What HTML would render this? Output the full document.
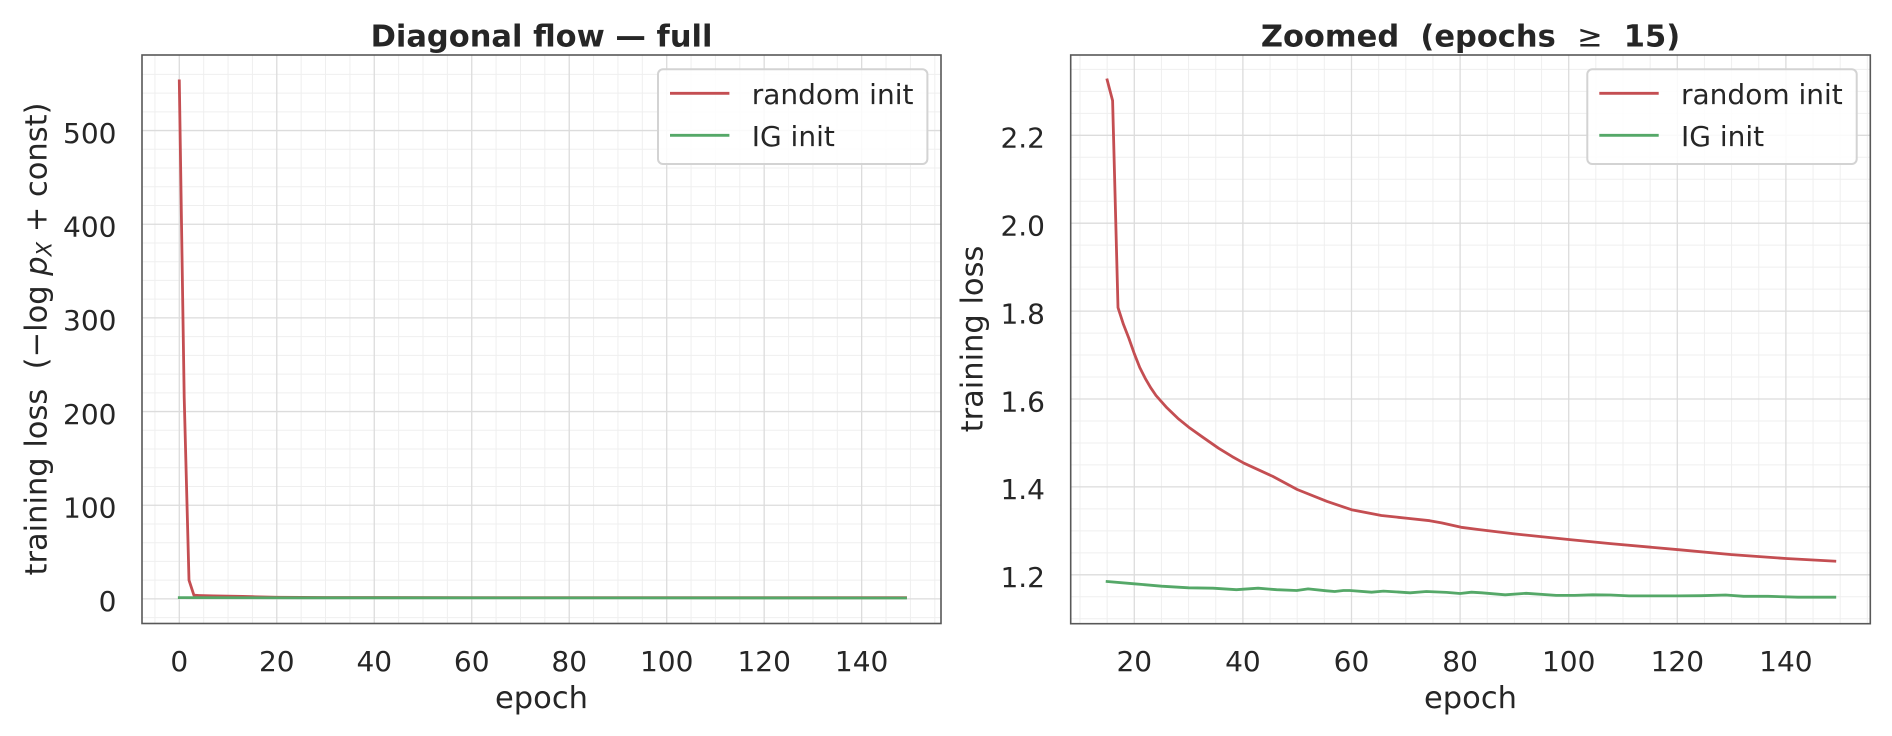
<!DOCTYPE html>
<html>
<head>
<meta charset="utf-8">
<style>
  html, body { margin:0; padding:0; background:#ffffff; }
  body { width:1892px; height:736px; overflow:hidden; }
  svg { display:block; }
  text { font-family: "DejaVu Sans", "Liberation Sans", sans-serif; fill:#262626; white-space:pre; }
</style>
</head>
<body>
<svg xmlns="http://www.w3.org/2000/svg" width="1892" height="736" viewBox="0 0 1892 736" xml:space="preserve">
  <rect x="0" y="0" width="1892" height="736" fill="#ffffff"/>

  <!-- ================= LEFT AXES ================= -->
  <rect x="142" y="55" width="799" height="568.5" fill="#ffffff"/>
  <path fill="none" stroke="#efefef" stroke-width="1" d="
    M154.93 55V623.5 M203.67 55V623.5 M228.04 55V623.5 M252.41 55V623.5
    M301.15 55V623.5 M325.52 55V623.5 M349.89 55V623.5
    M398.63 55V623.5 M423.0 55V623.5 M447.37 55V623.5
    M496.11 55V623.5 M520.48 55V623.5 M544.85 55V623.5
    M593.59 55V623.5 M617.96 55V623.5 M642.33 55V623.5
    M691.07 55V623.5 M715.44 55V623.5 M739.81 55V623.5
    M788.55 55V623.5 M812.92 55V623.5 M837.29 55V623.5
    M886.03 55V623.5 M910.4 55V623.5 M934.77 55V623.5
    M142 617.63H941 M142 580.17H941 M142 561.43H941 M142 542.7H941 M142 523.96H941
    M142 486.5H941 M142 467.76H941 M142 449.03H941 M142 430.29H941
    M142 392.83H941 M142 374.09H941 M142 355.36H941 M142 336.62H941
    M142 299.16H941 M142 280.42H941 M142 261.69H941 M142 242.95H941
    M142 205.49H941 M142 186.75H941 M142 168.02H941 M142 149.28H941
    M142 111.82H941 M142 93.08H941 M142 74.35H941"/>
  <path fill="none" stroke="#dcdcdc" stroke-width="1.3" d="
    M179.3 55V623.5 M276.78 55V623.5 M374.26 55V623.5 M471.74 55V623.5
    M569.22 55V623.5 M666.7 55V623.5 M764.18 55V623.5 M861.66 55V623.5
    M142 598.9H941 M142 505.23H941 M142 411.56H941 M142 317.89H941
    M142 224.22H941 M142 130.55H941"/>

  <polyline fill="none" stroke="#C44E52" stroke-width="2.8" stroke-linejoin="round" stroke-linecap="square"
    points="179.3,80.9 184.2,397.5 189.0,580.2 193.9,595.2 198.8,595.5 203.7,595.7 213.4,595.9 228.0,596.1 242.6,596.4 252.4,596.7 276.8,597.3 325.5,597.5 471.7,597.6 905.5,597.7"/>
  <polyline fill="none" stroke="#55A868" stroke-width="2.8" stroke-linejoin="round" stroke-linecap="square"
    points="179.3,597.6 300,597.8 905.5,598.0"/>

  <rect x="142" y="55" width="799" height="568.5" fill="none" stroke="#585858" stroke-width="1.6"/>

  <rect x="658" y="69.3" width="269.4" height="94.7" rx="5" ry="5" fill="#ffffff" fill-opacity="0.85" stroke="#d3d3d3" stroke-width="2"/>
  <line x1="670" y1="93.3" x2="729.4" y2="93.3" stroke="#C44E52" stroke-width="2.8"/>
  <line x1="670" y1="135.3" x2="729.4" y2="135.3" stroke="#55A868" stroke-width="2.8"/>
  <text x="751.7" y="104" font-size="28">random init</text>
  <text x="751.7" y="146" font-size="28">IG init</text>

  <g font-size="28" text-anchor="end">
    <text x="116.5" y="611.2">0</text>
    <text x="116.5" y="517.5">100</text>
    <text x="116.5" y="423.9">200</text>
    <text x="116.5" y="330.2">300</text>
    <text x="116.5" y="236.5">400</text>
    <text x="116.5" y="142.9">500</text>
  </g>
  <g font-size="28" text-anchor="middle">
    <text x="179.3" y="671">0</text>
    <text x="276.78" y="671">20</text>
    <text x="374.26" y="671">40</text>
    <text x="471.74" y="671">60</text>
    <text x="569.22" y="671">80</text>
    <text x="666.7" y="671">100</text>
    <text x="764.18" y="671">120</text>
    <text x="861.66" y="671">140</text>
  </g>
  <text x="541.5" y="708" font-size="30.5" text-anchor="middle">epoch</text>
  <text transform="translate(46.5,339) rotate(-90)" font-size="30.5" text-anchor="middle">training loss  (−log <tspan font-style="italic">p</tspan><tspan font-style="italic" font-size="21" dy="5">X</tspan><tspan dy="-5"> + const)</tspan></text>
  <text x="541.5" y="46.5" font-size="30.5" font-weight="bold" text-anchor="middle">Diagonal flow — full</text>

  <!-- ================= RIGHT AXES ================= -->
  <rect x="1070.7" y="55" width="799.6" height="568.7" fill="#ffffff"/>
  <path fill="none" stroke="#efefef" stroke-width="1" d="
    M1080.0 55V623.7 M1107.15 55V623.7 M1161.45 55V623.7 M1188.6 55V623.7 M1215.75 55V623.7
    M1270.05 55V623.7 M1297.2 55V623.7 M1324.35 55V623.7
    M1378.65 55V623.7 M1405.8 55V623.7 M1432.95 55V623.7
    M1487.25 55V623.7 M1514.4 55V623.7 M1541.55 55V623.7
    M1595.85 55V623.7 M1623.0 55V623.7 M1650.15 55V623.7
    M1704.45 55V623.7 M1731.6 55V623.7 M1758.75 55V623.7
    M1813.05 55V623.7 M1840.2 55V623.7 M1867.35 55V623.7
    M1070.7 618.75H1870.3 M1070.7 596.78H1870.3 M1070.7 552.83H1870.3 M1070.7 530.85H1870.3
    M1070.7 508.88H1870.3 M1070.7 464.93H1870.3 M1070.7 442.95H1870.3 M1070.7 420.98H1870.3
    M1070.7 377.03H1870.3 M1070.7 355.05H1870.3 M1070.7 333.08H1870.3
    M1070.7 289.13H1870.3 M1070.7 267.15H1870.3 M1070.7 245.18H1870.3
    M1070.7 201.23H1870.3 M1070.7 179.25H1870.3 M1070.7 157.28H1870.3
    M1070.7 113.33H1870.3 M1070.7 91.35H1870.3 M1070.7 69.38H1870.3"/>
  <path fill="none" stroke="#dcdcdc" stroke-width="1.3" d="
    M1134.3 55V623.7 M1242.9 55V623.7 M1351.5 55V623.7 M1460.1 55V623.7
    M1568.7 55V623.7 M1677.3 55V623.7 M1785.9 55V623.7
    M1070.7 574.8H1870.3 M1070.7 486.9H1870.3 M1070.7 399.0H1870.3
    M1070.7 311.1H1870.3 M1070.7 223.2H1870.3 M1070.7 135.3H1870.3"/>

  <polyline fill="none" stroke="#C44E52" stroke-width="2.8" stroke-linejoin="round" stroke-linecap="square"
    points="1107.15,79.9 1112.6,100.6 1118.0,307.6 1123.4,324.3 1128.9,338.4 1134.3,353.7 1139.7,367.4 1145.2,378.3 1150.6,387.6 1156.0,395.5 1166.9,407.8 1177.8,418.3 1188.6,427.1 1202.2,436.8 1218.5,448.2 1232.2,456.6 1244.0,463.2 1272.8,476.4 1297.2,489.5 1327.1,501.4 1351.5,509.7 1381.4,515.5 1405.8,518.1 1429.7,520.7 1441.6,522.9 1461.2,527.3 1478.2,529.5 1514.4,533.9 1569.8,539.6 1610.5,543.6 1678.4,549.7 1731.6,554.6 1785.9,558.5 1834.8,561.2"/>
  <polyline fill="none" stroke="#55A868" stroke-width="2.8" stroke-linejoin="round" stroke-linecap="square"
    points="1107.15,581.5 1134.3,583.8 1161.5,586.2 1188.6,587.8 1213.0,588.2 1236.4,589.7 1258.1,588.2 1276.6,589.7 1296.7,590.5 1308.1,588.9 1326.5,590.8 1334.7,591.5 1343.4,590.5 1349.9,590.5 1371.6,592.2 1383.5,591.1 1410.1,592.8 1426.4,591.5 1446.5,592.4 1460.1,593.5 1471.5,592.2 1481.8,592.8 1505.2,594.8 1526.3,593.3 1556.2,595.4 1574.7,595.4 1592.6,594.8 1610.5,595.0 1629.0,595.9 1677.3,595.9 1701.2,595.7 1725.7,595.0 1743.6,596.3 1768.0,596.3 1797.9,597.2 1834.8,597.2"/>

  <rect x="1070.7" y="55" width="799.6" height="568.7" fill="none" stroke="#585858" stroke-width="1.6"/>

  <rect x="1587.3" y="69.3" width="269.4" height="94.7" rx="5" ry="5" fill="#ffffff" fill-opacity="0.85" stroke="#d3d3d3" stroke-width="2"/>
  <line x1="1599.3" y1="93.3" x2="1658.7" y2="93.3" stroke="#C44E52" stroke-width="2.8"/>
  <line x1="1599.3" y1="135.3" x2="1658.7" y2="135.3" stroke="#55A868" stroke-width="2.8"/>
  <text x="1681" y="104" font-size="28">random init</text>
  <text x="1681" y="146" font-size="28">IG init</text>

  <g font-size="28" text-anchor="end">
    <text x="1045" y="587.1">1.2</text>
    <text x="1045" y="499.2">1.4</text>
    <text x="1045" y="411.3">1.6</text>
    <text x="1045" y="323.4">1.8</text>
    <text x="1045" y="235.5">2.0</text>
    <text x="1045" y="147.6">2.2</text>
  </g>
  <g font-size="28" text-anchor="middle">
    <text x="1134.3" y="671">20</text>
    <text x="1242.9" y="671">40</text>
    <text x="1351.5" y="671">60</text>
    <text x="1460.1" y="671">80</text>
    <text x="1568.7" y="671">100</text>
    <text x="1677.3" y="671">120</text>
    <text x="1785.9" y="671">140</text>
  </g>
  <text x="1470.5" y="708" font-size="30.5" text-anchor="middle">epoch</text>
  <text transform="translate(982.5,339) rotate(-90)" font-size="30.5" text-anchor="middle">training loss</text>
  <text x="1470.5" y="46.5" font-size="30.5" font-weight="bold" text-anchor="middle">Zoomed  (epochs  <tspan font-weight="normal">≥</tspan>  15)</text>
</svg>
</body>
</html>
